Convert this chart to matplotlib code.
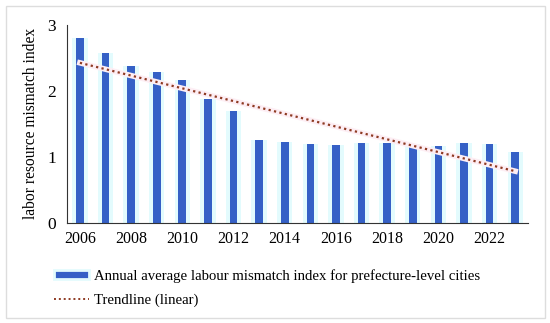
import numpy as np
import matplotlib.pyplot as plt
from matplotlib.patches import Rectangle
from matplotlib.lines import Line2D

plt.rcParams['font.family'] = ['Liberation Serif', 'DejaVu Serif']

years = list(range(2006, 2024))
mismatch = [2.80, 2.57, 2.38, 2.28, 2.17, 1.88, 1.69, 1.25, 1.22,
            1.19, 1.18, 1.21, 1.21, 1.20, 1.17, 1.21, 1.19, 1.07]
xtick_years = list(range(2006, 2024, 2))

fig = plt.figure(figsize=(5.5, 3.23), dpi=100)
# light outer frame
fig.patches.append(Rectangle((0.01, 0.015), 0.98, 0.965, transform=fig.transFigure,
                             fill=False, edgecolor='#dddddd', linewidth=1))

ax = fig.add_axes([0.122, 0.31, 0.838, 0.613])

# cyan glow behind bars, then the bars
ax.bar(years, mismatch, width=0.6, color='#e3fbfd', zorder=1)
ax.bar(years, mismatch, width=0.3, color='#3560c6', zorder=2)

# linear trendline
coef = np.polyfit(years, mismatch, 1)
trend = np.polyval(coef, years)
ax.plot(years, trend, color='#fdeef4', linewidth=4, zorder=3)
ax.plot(years, trend, color='#8e3a22', linewidth=1.6, linestyle=(0, (1, 1.5)), zorder=4)

ax.set_xlim(2005.5, 2023.5)
ax.set_ylim(0, 3)
ax.set_yticks([0, 1, 2, 3])
ax.set_xticks(xtick_years)
ax.tick_params(axis='x', length=0, labelsize=11.5, pad=6)
ax.tick_params(axis='y', length=0, labelsize=12.5, pad=8)
ax.set_ylabel('labor resource mismatch index', fontsize=11.2, labelpad=6)
for s in ['top', 'right']:
    ax.spines[s].set_visible(False)
for s in ['left', 'bottom']:
    ax.spines[s].set_color('#333333')

handles = [Rectangle((0, 0), 1, 1, facecolor='#3560c6', edgecolor='#e3fbfd', linewidth=2),
           Line2D([0], [0], color='#8e3a22', linewidth=1.4, linestyle=(0, (1, 1.5)))]
labels = ['Annual average labour mismatch index for prefecture-level cities',
          'Trendline (linear)']
fig.legend(handles, labels, loc='lower left', bbox_to_anchor=(0.074, 0.008),
           frameon=False, fontsize=10.6, handlelength=2.4, handleheight=0.6,
           handletextpad=0.3, labelspacing=0.75)

fig.savefig('out.png', dpi=100)
